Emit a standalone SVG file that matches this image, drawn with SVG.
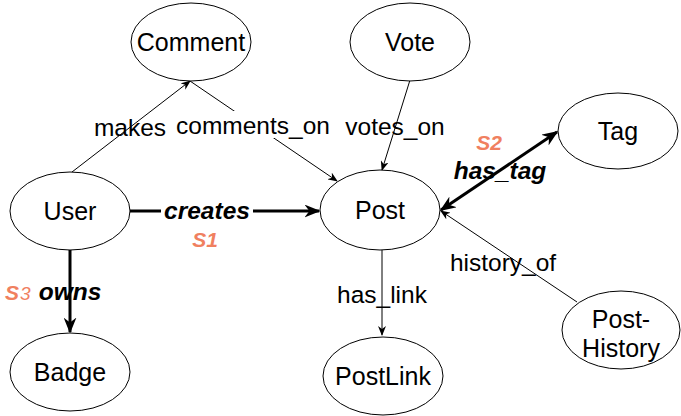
<svg xmlns="http://www.w3.org/2000/svg" width="681" height="416" viewBox="0 0 681 416">
<style>
.node ellipse{fill:#fff;stroke:#000;stroke-width:1}
.node text{font-family:"Liberation Sans",Arial,sans-serif;font-size:25px;fill:#000;text-anchor:middle}
.edges line{stroke:#000;fill:none}
.thin{stroke-width:1}
.thick{stroke-width:3}
.lbl{font-family:"Liberation Sans",Arial,sans-serif;font-size:24.5px;fill:#000;text-anchor:middle}
.blbl{font-family:"Liberation Sans",Arial,sans-serif;font-size:24.5px;fill:#000;text-anchor:middle;font-weight:bold;font-style:italic}
.s{font-family:"Liberation Sans",Arial,sans-serif;font-size:21px;fill:#F0805F;font-weight:bold;font-style:italic;text-anchor:middle}
</style>
<defs>
<marker id="a" viewBox="0 0 10 8" refX="9" refY="4" markerWidth="10" markerHeight="8" markerUnits="userSpaceOnUse" orient="auto">
<path d="M0,0 L10,4 L0,8 L3,4 z" fill="#000"/>
</marker>
<marker id="A" viewBox="0 0 10 8" refX="9" refY="4" markerWidth="16" markerHeight="13" markerUnits="userSpaceOnUse" orient="auto">
<path d="M0,0 L10,4 L0,8 L3,4 z" fill="#000"/>
</marker>
<marker id="As" viewBox="0 0 10 8" refX="1" refY="4" markerWidth="16" markerHeight="13" markerUnits="userSpaceOnUse" orient="auto">
<path d="M10,0 L0,4 L10,8 L7,4 z" fill="#000"/>
</marker>
</defs>
<g id="connectors" class="edges">
<line class="thin" x1="72" y1="172" x2="190" y2="81" marker-end="url(#a)"/>
<line class="thin" x1="190" y1="81" x2="337" y2="181" marker-end="url(#a)"/>
<line class="thin" x1="410" y1="80" x2="382" y2="170" marker-end="url(#a)"/>
<line class="thin" x1="577" y1="302" x2="441" y2="211" marker-end="url(#a)"/>
<line class="thin" x1="382" y1="250" x2="382" y2="335" marker-end="url(#a)"/>
<line class="thick" x1="130" y1="211" x2="319" y2="211" marker-end="url(#A)"/>
<line class="thick" x1="441" y1="210" x2="557" y2="132" marker-start="url(#As)" marker-end="url(#A)"/>
<line class="thick" x1="70" y1="250" x2="70" y2="332" marker-end="url(#A)"/>
<text class="lbl" x="130" y="136">makes</text>
<rect x="172" y="111" width="162" height="27" fill="#fff"/>
<text class="lbl" x="253" y="134">comments_on</text>
<text class="lbl" x="395" y="135">votes_on</text>
<text class="lbl" x="503" y="271">history_of</text>
<text class="lbl" x="382" y="303">has_link</text>
<rect x="161" y="198" width="92" height="26" fill="#fff"/>
<text class="blbl" x="207" y="219">creates</text>
<text class="s" x="205" y="247">S1</text>
<text class="blbl" x="500" y="179">has_tag</text>
<text class="s" x="489" y="150">S2</text>
<text class="blbl" x="70" y="300">owns</text>
<text class="s" x="12" y="300">S</text>
<text x="20" y="300" style="font-family:'Liberation Sans',Arial,sans-serif;font-size:19px;fill:#F0805F;font-style:italic">3</text>
</g>
<g id="node-comment" class="node"><ellipse cx="191" cy="42" rx="60" ry="39"/><text x="191" y="51">Comment</text></g>
<g id="node-vote" class="node"><ellipse cx="410" cy="42" rx="60" ry="39"/><text x="410" y="51">Vote</text></g>
<g id="node-tag" class="node"><ellipse cx="618" cy="131" rx="60" ry="38"/><text x="618" y="140">Tag</text></g>
<g id="node-user" class="node"><ellipse cx="70" cy="211" rx="60" ry="39"/><text x="70" y="220">User</text></g>
<g id="node-post" class="node"><ellipse cx="380" cy="210" rx="60" ry="40"/><text x="380" y="219">Post</text></g>
<g id="node-badge" class="node"><ellipse cx="70" cy="372" rx="60" ry="39"/><text x="70" y="381">Badge</text></g>
<g id="node-postlink" class="node"><ellipse cx="383" cy="376" rx="60" ry="39"/><text x="383" y="385">PostLink</text></g>
<g id="node-posthistory" class="node"><ellipse cx="621" cy="330" rx="59" ry="39"/><text x="621" y="328">Post-</text><text x="621" y="357">History</text></g>
</svg>
